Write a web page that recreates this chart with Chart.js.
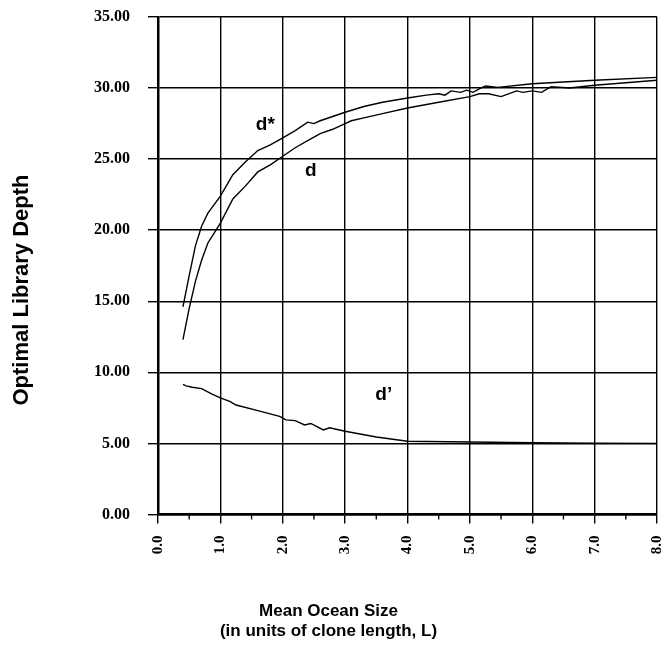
<!DOCTYPE html>
<html lang="en">
<head>
    <meta charset="UTF-8">
    <title>Optimal Library Depth vs Mean Ocean Size</title>
    <style>
        body {
            margin: 0;
            background-color: #ffffff;
        }
        .wrap {
            width: 665px;
            height: 654px;
        }
    </style>
    <script src="https://cdn.jsdelivr.net/npm/chart.js"></script>
</head>
<body>
    <div class="wrap"><canvas id="myChart" width="665" height="654"></canvas></div>
    <script>
        // d* curve
        const dStarX = [0.4, 0.5, 0.6, 0.7, 0.8, 0.9, 1.0, 1.2, 1.4, 1.6, 1.8, 2.0, 2.2, 2.4, 2.5, 2.6, 2.8, 3.0, 3.3, 3.6, 4.0, 4.3, 4.5, 4.6, 4.7, 4.85, 4.95, 5.05, 5.15, 5.25, 5.45, 6.0, 7.0, 8.0];
        const dStarY = [14.6, 16.8, 18.9, 20.3, 21.2, 21.8, 22.4, 23.9, 24.8, 25.6, 26.0, 26.5, 27.0, 27.6, 27.5, 27.7, 28.0, 28.3, 28.7, 29.0, 29.3, 29.5, 29.6, 29.5, 29.8, 29.7, 29.85, 29.7, 29.95, 30.15, 30.05, 30.3, 30.55, 30.75];

        // d curve
        const dX = [0.4, 0.5, 0.6, 0.7, 0.8, 0.9, 1.0, 1.2, 1.4, 1.6, 1.8, 2.0, 2.2, 2.4, 2.6, 2.8, 3.0, 3.1, 3.3, 3.6, 4.0, 4.5, 5.0, 5.15, 5.3, 5.5, 5.75, 5.85, 6.0, 6.15, 6.3, 6.6, 7.0, 8.0];
        const dY = [12.3, 14.5, 16.4, 17.9, 19.1, 19.8, 20.5, 22.2, 23.1, 24.1, 24.6, 25.2, 25.8, 26.3, 26.8, 27.1, 27.5, 27.7, 27.9, 28.2, 28.6, 29.0, 29.4, 29.6, 29.6, 29.4, 29.8, 29.7, 29.8, 29.7, 30.1, 30.0, 30.2, 30.55];

        // d' curve
        const dPrimeX = [0.4, 0.45, 0.55, 0.7, 0.85, 1.0, 1.15, 1.25, 1.6, 1.95, 2.05, 2.2, 2.35, 2.45, 2.65, 2.75, 3.0, 3.5, 4.0, 5.0, 6.0, 7.0, 8.0];
        const dPrimeY = [9.15, 9.05, 8.95, 8.85, 8.5, 8.2, 7.95, 7.7, 7.3, 6.9, 6.65, 6.6, 6.3, 6.4, 5.95, 6.1, 5.85, 5.45, 5.15, 5.1, 5.05, 5.02, 5.0];

        // curve names written on the plot (in data units)
        const curveNames = ['d*', 'd', 'd\u2019'];
        const nameX = [1.72, 2.45, 3.62];
        const nameY = [27.4, 24.2, 8.45];

        const xTickValues = [0, 1, 2, 3, 4, 5, 6, 7, 8];
        const yTickValues = [0, 5, 10, 15, 20, 25, 30, 35];

        const xTitle = ['Mean Ocean Size', '(in units of clone length, L)'];
        const yTitle = 'Optimal Library Depth';

        const toPoints = (xs, ys) => xs.map((x, i) => ({ x: x, y: ys[i] }));

        const lineStyle = {
            borderColor: '#000',
            borderWidth: 1.4,
            pointRadius: 0,
            tension: 0,
            fill: false
        };

        const titleFont = { family: 'Liberation Sans', weight: 'bold', size: 17 };

        // short ticks at the half units of the x axis
        const minorTicks = {
            id: 'minorTicks',
            afterDraw(chart) {
                const ctx = chart.ctx;
                const xs = chart.scales.x;
                const base = chart.chartArea.bottom;
                ctx.save();
                ctx.strokeStyle = '#000';
                ctx.lineWidth = 1.4;
                for (let i = 0; i < xTickValues.length - 1; i++) {
                    const px = xs.getPixelForValue(xTickValues[i] + 0.5);
                    ctx.beginPath();
                    ctx.moveTo(px, base);
                    ctx.lineTo(px, base + 5);
                    ctx.stroke();
                }
                ctx.restore();
            }
        };

        // curve names and the rotated y axis title
        const textLabels = {
            id: 'textLabels',
            afterDatasetsDraw(chart) {
                const ctx = chart.ctx;
                ctx.save();
                ctx.fillStyle = '#000';
                ctx.font = 'bold 19px "Liberation Sans"';
                ctx.textAlign = 'center';
                ctx.textBaseline = 'middle';
                curveNames.forEach((name, i) => {
                    ctx.fillText(name, chart.scales.x.getPixelForValue(nameX[i]), chart.scales.y.getPixelForValue(nameY[i]));
                });
                ctx.translate(22, 290);
                ctx.rotate(-Math.PI / 2);
                ctx.font = 'bold 22px "Liberation Sans"';
                ctx.fillText(yTitle, 0, 0);
                ctx.restore();
            }
        };

        new Chart(document.getElementById('myChart'), {
            type: 'line',
            data: {
                datasets: [
                    Object.assign({ label: 'd*', data: toPoints(dStarX, dStarY) }, lineStyle),
                    Object.assign({ label: 'd', data: toPoints(dX, dY) }, lineStyle),
                    Object.assign({ label: "d'", data: toPoints(dPrimeX, dPrimeY) }, lineStyle)
                ]
            },
            options: {
                responsive: false,
                animation: false,
                layout: { padding: { top: 17, right: 8, left: 0, bottom: 0 } },
                plugins: {
                    legend: { display: false },
                    tooltip: { enabled: false },
                    title: {
                        display: true,
                        position: 'bottom',
                        text: xTitle,
                        color: '#000',
                        font: titleFont,
                        lineHeight: 1.35,
                        padding: { top: 35, bottom: 12 }
                    }
                },
                scales: {
                    x: {
                        type: 'linear',
                        min: 0,
                        max: 8,
                        afterBuildTicks: (scale) => { scale.ticks = xTickValues.map(v => ({ value: v })); },
                        afterFit: (scale) => { scale.paddingLeft = 0; scale.paddingRight = 0; },
                        ticks: {
                            minRotation: 90,
                            maxRotation: 90,
                            padding: 12,
                            color: '#000',
                            font: { family: 'Liberation Serif', weight: 'bold', size: 15 },
                            callback: (v) => Number(v).toFixed(1)
                        },
                        grid: { color: '#000', lineWidth: 1.4, tickLength: 9, tickColor: '#000' },
                        border: { color: '#000', width: 2.5 }
                    },
                    y: {
                        min: 0,
                        max: 35,
                        afterBuildTicks: (scale) => { scale.ticks = yTickValues.map(v => ({ value: v })); },
                        afterFit: (scale) => { scale.width = 158; scale.paddingTop = 0; scale.paddingBottom = 0; },
                        ticks: {
                            padding: 18,
                            color: '#000',
                            font: { family: 'Liberation Serif', weight: 'bold', size: 16 },
                            callback: (v) => Number(v).toFixed(2)
                        },
                        grid: { color: '#000', lineWidth: 1.4, tickLength: 10, tickColor: '#000' },
                        border: { color: '#000', width: 2.5 }
                    }
                }
            },
            plugins: [minorTicks, textLabels]
        });
    </script>
</body>
</html>
